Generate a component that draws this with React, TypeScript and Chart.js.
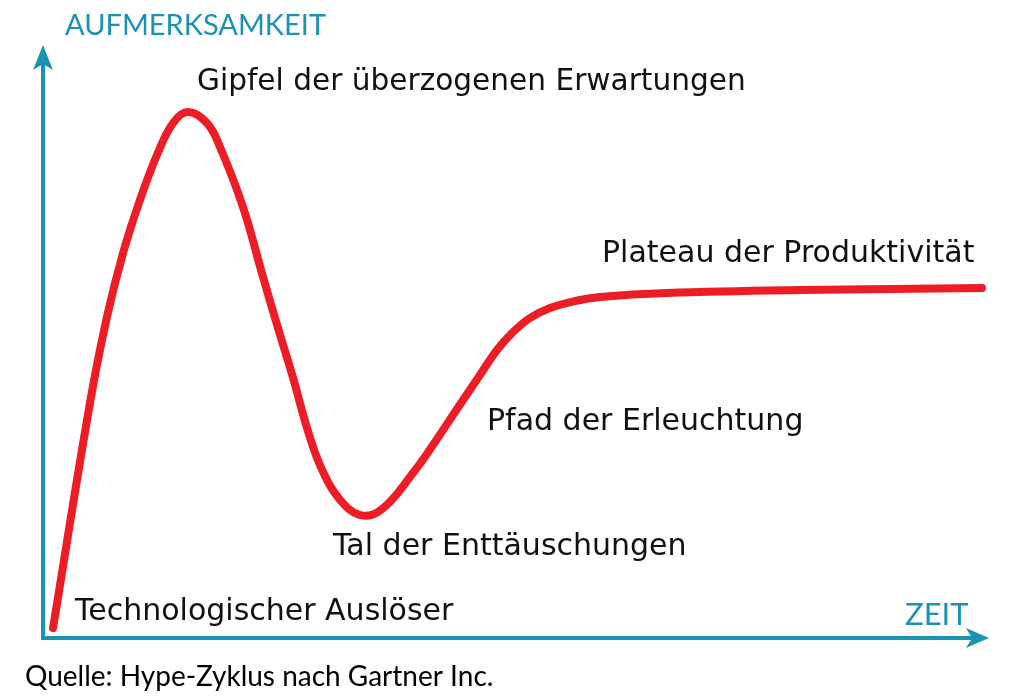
import React, { useEffect, useRef } from "react";
import { Chart, registerables } from "chart.js";

Chart.register(...registerables);

// Time (x) and attention (y) of the hype curve, in percent of the axes
const timeValues = [
  1.06, 4.97, 6.77, 8.47, 10.26, 12.06, 13.76, 15.34, 17.35, 18.73, 21.16,
  23.28, 24.87, 26.46, 27.94, 29.31, 31.11, 33.54, 35.87, 39.15, 41.48, 43.81,
  46.24, 48.04, 49.63, 51.53, 53.65, 56.3, 58.94, 66.03, 80.11, 99.37,
];
const attentionValues = [
  1.69, 39.83, 54.41, 65.25, 74.24, 81.86, 87.29, 89.15, 87.29, 83.22,
  73.05, 61.19, 52.54, 44.07, 35.59, 29.32, 24.07, 20.85, 21.86, 27.97, 33.22,
  38.81, 44.58, 48.81, 51.69, 54.24, 55.93, 57.12, 57.8, 58.47, 58.98, 59.32,
];

const phaseLabels = [
  "Gipfel der überzogenen Erwartungen",
  "Plateau der Produktivität",
  "Pfad der Erleuchtung",
  "Tal der Enttäuschungen",
  "Technologischer Auslöser",
];
const yAxisTitle = "AUFMERKSAMKEIT";
const xAxisTitle = "ZEIT";
const sourceNote = "Quelle: Hype-Zyklus nach Gartner Inc.";

const AXIS_COLOR = "#1a93b2";
const CURVE_COLOR = "#ee1c25";

const overlayPlugin = {
  id: "hypeOverlay",
  beforeDatasetsDraw(chart: any) {
    const { ctx, chartArea } = chart;
    const { left, right, top, bottom } = chartArea;
    ctx.save();
    ctx.strokeStyle = AXIS_COLOR;
    ctx.fillStyle = AXIS_COLOR;
    ctx.lineWidth = 4;
    ctx.lineCap = "butt";
    // y axis
    ctx.beginPath();
    ctx.moveTo(left, bottom + 2);
    ctx.lineTo(left, top + 15);
    ctx.stroke();
    // x axis
    ctx.beginPath();
    ctx.moveTo(left - 2, bottom);
    ctx.lineTo(right - 15, bottom);
    ctx.stroke();
    // arrow heads
    ctx.beginPath();
    ctx.moveTo(left, top - 3);
    ctx.lineTo(left + 10, top + 22);
    ctx.lineTo(left, top + 16);
    ctx.lineTo(left - 10, top + 22);
    ctx.closePath();
    ctx.fill();
    ctx.beginPath();
    ctx.moveTo(right + 1, bottom);
    ctx.lineTo(right - 22, bottom - 10);
    ctx.lineTo(right - 16, bottom);
    ctx.lineTo(right - 22, bottom + 10);
    ctx.closePath();
    ctx.fill();

    // axis titles
    ctx.textAlign = "left";
    ctx.textBaseline = "alphabetic";
    ctx.font = "29px Lato";
    ctx.fillText(yAxisTitle, left + 22, top - 13);
    ctx.font = "31px Lato";
    ctx.fillText(xAxisTitle, right - 83, bottom - 13);

    // phase labels
    ctx.fillStyle = "#111111";
    const pos = [
      [197, 90, 29.6],
      [602, 262, 30],
      [487, 430, 30],
      [333, 555, 30],
      [75, 620, 30],
    ];
    phaseLabels.forEach((t, i) => {
      ctx.font = `${pos[i][2]}px 'DejaVu Sans'`;
      ctx.fillText(t, pos[i][0], pos[i][1]);
    });

    // source
    ctx.fillStyle = "#000000";
    ctx.font = "28px Lato";
    ctx.fillText(sourceNote, 25, 686);
    ctx.restore();
  },
};

export default function App() {
  const ref = useRef<HTMLCanvasElement | null>(null);
  useEffect(() => {
    document.body.style.margin = "0";
    const canvas = ref.current;
    if (!canvas) return;
    const chart = new Chart(canvas, {
      type: "line",
      data: {
        datasets: [
          {
            data: timeValues.map((x, i) => ({ x, y: attentionValues[i] })),
            borderColor: CURVE_COLOR,
            borderWidth: 8,
            borderCapStyle: "round",
            borderJoinStyle: "round",
            pointRadius: 0,
            tension: 0.4,
            fill: false,
          },
        ],
      },
      options: {
        animation: false,
        responsive: false,
        devicePixelRatio: 1,
        layout: { padding: { left: 43, right: 35, top: 48, bottom: 59 } },
        plugins: { legend: { display: false }, tooltip: { enabled: false } },
        scales: {
          x: { type: "linear", min: 0, max: 100, display: false },
          y: { type: "linear", min: 0, max: 100, display: false },
        },
      },
      plugins: [overlayPlugin],
    });
    return () => chart.destroy();
  }, []);
  return (
    <div style={{ width: 1023, height: 697, background: "#fff" }}>
      <canvas ref={ref} width={1023} height={697} style={{ display: "block" }} />
    </div>
  );
}
